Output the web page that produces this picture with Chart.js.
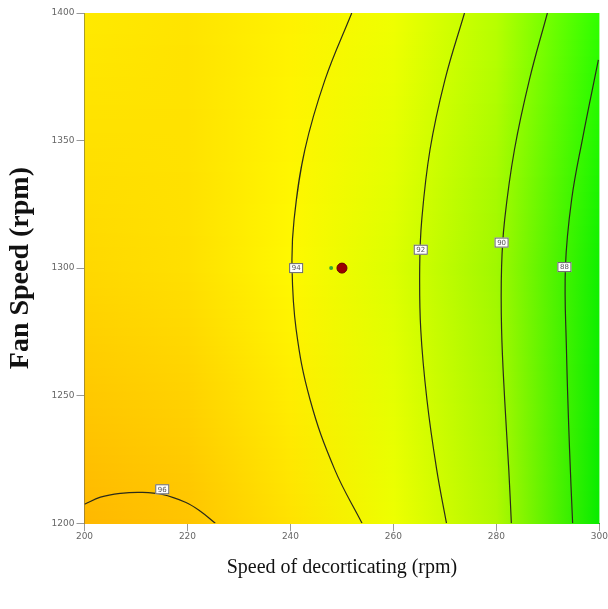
<!DOCTYPE html>
<html>
<head>
<meta charset="utf-8">
<script src="https://cdn.jsdelivr.net/npm/chart.js@4.4.0/dist/chart.umd.min.js"></script>
<style>
  body { margin: 0; background: #fff; }
  #wrap { width: 608px; height: 609px; }
</style>
</head>
<body>
<div id="wrap"><canvas id="myContour" width="608" height="609"></canvas></div>
<script>
// axis ticks
var xTicks = [200, 220, 240, 260, 280, 300];
var yTicks = [1200, 1250, 1300, 1350, 1400];

// contour lines (speed, fan speed)
var c1x = [251.9, 246.7, 242.8, 240.7, 240.3, 241.1, 243.8, 248.6, 253.9];
var c1y = [1400, 1373.8, 1346.4, 1319, 1300.4, 1276, 1248.5, 1221, 1200];
var c2x = [273.8, 270.0, 267.1, 265.5, 265.1, 265.3, 266.5, 268.4, 270.3];
var c2y = [1400, 1373.8, 1346.4, 1319, 1300.4, 1276, 1248.5, 1221, 1200];
var c3x = [289.9, 286.4, 283.5, 281.6, 281.0, 281.0, 281.6, 282.4, 282.9];
var c3y = [1400, 1373.8, 1346.4, 1319, 1300.4, 1276, 1248.5, 1221, 1200];
var c4x = [299.8, 296.7, 294.6, 293.4, 293.6, 294.2, 294.8];
var c4y = [1381.6, 1350.5, 1326.8, 1300.4, 1268.1, 1229, 1200];
var c5x = [200, 203.1, 207.0, 210.9, 215.1, 219.6, 222.5, 225.4];
var c5y = [1207.4, 1210.2, 1211.7, 1212.1, 1211.3, 1208.2, 1204.7, 1200];

// contour labels
var labelText = ['94', '92', '90', '88', '96'];
var labelX = [241.1, 265.3, 281.0, 293.2, 215.1];
var labelY = [1300, 1307.2, 1310, 1300.4, 1213.3];

// design points
var centerX = [250];
var centerY = [1300];
var markX = [247.9];
var markY = [1300];

// background colour stops (three rows)
var bgX = [200, 220, 240, 260, 280, 300];
var bgRows = [1400, 1300, 1200];
var bgTop = ['#ffea00', '#ffe400', '#fff200', '#f0ff00', '#b8ff00', '#30ff00'];
var bgMid = ['#ffd800', '#ffe000', '#fff800', '#dcff00', '#a0f800', '#10f000'];
var bgBot = ['#ffb800', '#ffc400', '#ffe200', '#eeff00', '#b0f800', '#08ec00'];

function pts(xs, ys) {
    return xs.map(function (v, i) { return { x: v, y: ys[i] }; });
}
function hex(c) {
    return [parseInt(c.substr(1, 2), 16), parseInt(c.substr(3, 2), 16), parseInt(c.substr(5, 2), 16)];
}
function mix(a, b, t) {
    var A = hex(a), B = hex(b);
    return 'rgb(' + [0, 1, 2].map(function (k) { return Math.round(A[k] + (B[k] - A[k]) * t); }).join(',') + ')';
}

var backgroundPlugin = {
    id: 'bg',
    beforeDatasetsDraw: function (chart) {
        var ctx = chart.ctx, a = chart.chartArea, xs = chart.scales.x, ys = chart.scales.y;
        ctx.save();
        for (var py = Math.floor(a.top); py < a.bottom; py++) {
            var v = ys.getValueForPixel(py + 0.5);
            var r0, r1, t;
            if (v >= bgRows[1]) { r0 = bgMid; r1 = bgTop; t = (v - bgRows[1]) / (bgRows[0] - bgRows[1]); }
            else { r0 = bgBot; r1 = bgMid; t = (v - bgRows[2]) / (bgRows[1] - bgRows[2]); }
            t = Math.max(0, Math.min(1, t));
            var g = ctx.createLinearGradient(a.left, 0, a.right, 0);
            bgX.forEach(function (xv, i) {
                var f = (xs.getPixelForValue(xv) - a.left) / (a.right - a.left);
                g.addColorStop(Math.max(0, Math.min(1, f)), mix(r0[i], r1[i], t));
            });
            ctx.fillStyle = g;
            ctx.fillRect(a.left, py, a.right - a.left, 1);
        }
        ctx.restore();
    }
};

var labelPlugin = {
    id: 'clabels',
    afterDatasetsDraw: function (chart) {
        var ctx = chart.ctx, xs = chart.scales.x, ys = chart.scales.y;
        ctx.save();
        ctx.font = '7px "DejaVu Sans"';
        ctx.textAlign = 'center';
        ctx.textBaseline = 'middle';
        labelText.forEach(function (s, i) {
            var px = xs.getPixelForValue(labelX[i]), py = ys.getPixelForValue(labelY[i]);
            ctx.fillStyle = '#ffffff';
            ctx.fillRect(px - 7, py - 5, 14, 10);
            ctx.strokeStyle = '#666';
            ctx.lineWidth = 1;
            ctx.strokeRect(px - 7 + 0.5, py - 5 + 0.5, 13, 9);
            ctx.fillStyle = '#555';
            ctx.fillText(s, px, py + 0.5);
        });
        ctx.restore();
    }
};

function contour(xs, ys) {
    return {
        type: 'line',
        data: pts(xs, ys),
        borderColor: '#2b2b1a',
        borderWidth: 1.2,
        pointRadius: 0,
        tension: 0.4,
        fill: false
    };
}

var ctxC = document.getElementById('myContour').getContext('2d');
var myContour = new Chart(ctxC, {
    type: 'scatter',
    data: {
        datasets: [
            contour(c1x, c1y),
            contour(c2x, c2y),
            contour(c3x, c3y),
            contour(c4x, c4y),
            contour(c5x, c5y),
            {
                data: pts(markX, markY),
                backgroundColor: '#33aa33',
                borderWidth: 0,
                pointRadius: 2
            },
            {
                data: pts(centerX, centerY),
                backgroundColor: '#9a0000',
                borderColor: '#6a0000',
                borderWidth: 1,
                pointRadius: 5
            }
        ]
    },
    options: {
        responsive: false,
        animation: false,
        layout: { padding: { top: 13, right: 0, left: 4, bottom: 29 } },
        plugins: {
            legend: { display: false },
            tooltip: { enabled: false }
        },
        scales: {
            x: {
                type: 'linear',
                min: 200,
                max: 300,
                afterBuildTicks: function (s) { s.ticks = xTicks.map(function (v) { return { value: v }; }); },
                ticks: { color: '#666', font: { size: 9, family: '"DejaVu Sans"' }, padding: 0, maxRotation: 0 },
                grid: { drawOnChartArea: false, tickLength: 8, color: '#999' },
                border: { color: '#555', width: 1 },
                title: {
                    display: true,
                    text: 'Speed of decorticating (rpm)',
                    color: '#111',
                    font: { family: '"Liberation Serif"', size: 20 },
                    padding: { top: 14, bottom: 0 }
                }
            },
            y: {
                type: 'linear',
                min: 1200,
                max: 1400,
                afterBuildTicks: function (s) { s.ticks = yTicks.map(function (v) { return { value: v }; }); },
                ticks: {
                    color: '#666',
                    font: { size: 9, family: '"DejaVu Sans"' },
                    padding: 2,
                    callback: function (v) { return String(v); }
                },
                grid: { drawOnChartArea: false, tickLength: 8, color: '#999' },
                border: { color: '#555', width: 1 },
                title: {
                    display: true,
                    text: 'Fan Speed (rpm)',
                    color: '#111',
                    font: { family: '"Liberation Serif"', size: 28, weight: 'bold' },
                    padding: { top: 0, bottom: 12 }
                }
            }
        }
    },
    plugins: [backgroundPlugin, labelPlugin]
});
</script>
</body>
</html>
